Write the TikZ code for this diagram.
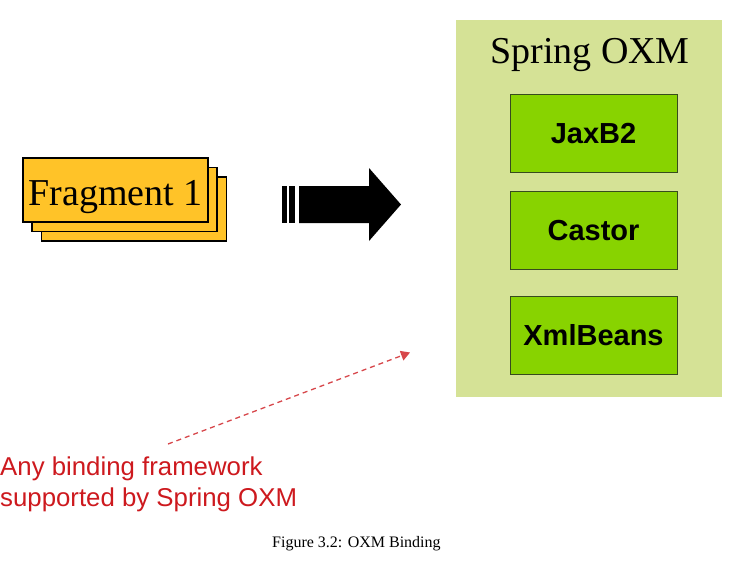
\documentclass[tikz,border=0pt]{standalone}
\usepackage{fontspec}
\setmainfont{Liberation Serif}
\setsansfont{Liberation Sans}
\usetikzlibrary{arrows.meta,positioning}

\definecolor{panelgreen}{RGB}{213,226,150}
\definecolor{libgreen}{RGB}{136,211,0}
\definecolor{libedge}{RGB}{55,75,30}
\definecolor{fraggold}{RGB}{255,195,40}
\definecolor{noteRed}{RGB}{205,25,30}

\begin{document}
\begin{tikzpicture}[x=1pt, y=-1pt,
  sheet/.style={draw=black, fill=fraggold, line width=1.6pt, minimum width=185pt, minimum height=64pt, inner sep=0pt},
  lib/.style={draw=libedge, fill=libgreen, line width=0.8pt, minimum width=167pt, minimum height=78pt, inner sep=0pt,
    text height=21pt, text depth=0pt, font=\sffamily\bfseries\fontsize{29}{32}\selectfont},
  dasharrow/.style={-{Triangle[length=9pt,width=10pt]}, dash pattern=on 5pt off 4pt, noteRed!80, line width=1.3pt}
]
  \useasboundingbox (0,0) rectangle (732,576);

  % Spring OXM panel
  \node[fill=panelgreen, minimum width=266pt, minimum height=377pt, inner sep=0pt] (oxm) at (589,208.5) {};
  \node[anchor=base, inner sep=0pt, font=\fontsize{38}{40}\selectfont] (oxmtitle) at (590,63) {Spring OXM};

  % Binding frameworks
  \node[lib] (jaxb) at (593.5,133) {JaxB2};
  \node[lib] (castor) at (593.5,230) {Castor};
  \node[lib] (xmlbeans) at (593.5,335) {XmlBeans};

  % Fragment stack
  \node[sheet] (frag3) at (134,209) {};
  \node[sheet] (frag2) at (124.5,199.5) {};
  \node[sheet, text height=30pt, text depth=0pt, font=\fontsize{38}{40}\selectfont] (frag1) at (115.5,190) {Fragment 1\hspace{3pt}};

  % Big arrow
  \fill (282,186) rectangle (286.5,223);
  \fill (289,186) rectangle (295,223);
  \fill (299,186) -- (369,186) -- (369,168) -- (401,204.5) -- (369,241) -- (369,223) -- (299,223) -- cycle;

  % Note
  \node[anchor=base west, inner sep=0pt, text=noteRed, font=\sffamily\fontsize{25.8}{31}\selectfont] (note1) at (0,475) {Any binding framework};
  \node[anchor=base west, inner sep=0pt, text=noteRed, font=\sffamily\fontsize{25.8}{31}\selectfont] (note2) at (0,506) {supported by Spring OXM};
  \coordinate (notestart) at (168,444);
  \coordinate (noteend) at (410,352.5);
  \draw[dasharrow] (notestart) -- (noteend);

  % Caption
  \node[anchor=base west, inner sep=0pt, font=\fontsize{16}{18}\selectfont] (caption) at (272,547) {Figure 3.2: OXM Binding};
\end{tikzpicture}
\end{document}
